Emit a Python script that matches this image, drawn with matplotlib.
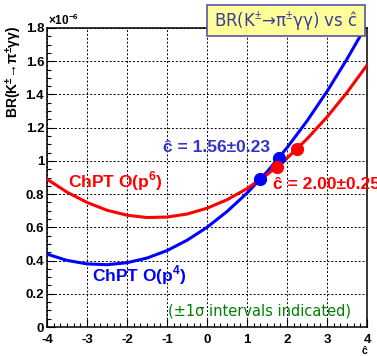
import numpy as np
import matplotlib
matplotlib.use('Agg')
import matplotlib.pyplot as plt
from matplotlib.patches import Rectangle

plt.rcParams['font.family'] = ['Liberation Sans', 'DejaVu Sans']
plt.rcParams['mathtext.fontset'] = 'custom'
plt.rcParams['mathtext.rm'] = 'Liberation Sans'
plt.rcParams['mathtext.bf'] = 'Liberation Sans:bold'
plt.rcParams['axes.unicode_minus'] = False

# ---- data (BR in units of 1e-6) ----
c_hat = [-4, -3.5, -3, -2.5, -2, -1.5, -1, -0.5, 0, 0.5, 1, 1.5, 2, 2.5, 3, 3.5, 4]
br_p4 = [0.439, 0.401, 0.380, 0.375, 0.387, 0.415, 0.460, 0.522, 0.600,
         0.695, 0.806, 0.934, 1.079, 1.240, 1.418, 1.613, 1.823]
br_p6 = [0.890, 0.812, 0.750, 0.703, 0.673, 0.659, 0.662, 0.680, 0.715,
         0.766, 0.833, 0.917, 1.016, 1.132, 1.264, 1.412, 1.576]

# +-1 sigma points
p4_pts_x = [1.33, 1.79]
p4_pts_y = [0.889, 1.016]
p6_pts_x = [1.75, 2.25]
p6_pts_y = [0.964, 1.072]

xticks = [-4, -3, -2, -1, 0, 1, 2, 3, 4]
xtick_labels = ['-4', '-3', '-2', '-1', '0', '1', '2', '3', '4']
yticks = [0, 0.2, 0.4, 0.6, 0.8, 1.0, 1.2, 1.4, 1.6, 1.8]
ytick_labels = ['0', '0.2', '0.4', '0.6', '0.8', '1', '1.2', '1.4', '1.6', '1.8']

W, H = 377, 356
fig = plt.figure(figsize=(W / 100, H / 100), dpi=100)
ax = fig.add_axes([47 / W, 1 - 327 / H, 320 / W, 299 / H])

ax.plot(c_hat, br_p4, color='#0000ff', lw=2.2, zorder=3)
ax.plot(c_hat, br_p6, color='#ff0000', lw=2.2, zorder=3)
ax.plot(p4_pts_x, p4_pts_y, 'o', color='#0000ff', ms=8.5, zorder=4)
ax.plot(p6_pts_x, p6_pts_y, 'o', color='#ff0000', ms=8.5, zorder=5)

ax.set_xlim(-4, 4)
ax.set_ylim(0, 1.8)
ax.set_xticks(xticks)
ax.set_xticklabels(xtick_labels)
ax.set_yticks(yticks)
ax.set_yticklabels(ytick_labels)
ax.set_xticks(np.arange(-4, 4.01, 1 / 6), minor=True)
ax.set_yticks(np.arange(0, 1.801, 0.05), minor=True)
ax.tick_params(which='both', direction='in', top=False, right=False, width=0.8)
ax.tick_params(which='major', length=6, labelsize=9.5)
ax.tick_params(which='minor', length=3)
ax.tick_params(axis='y', pad=2)
ax.tick_params(axis='x', pad=5)
for lab in ax.get_xticklabels() + ax.get_yticklabels():
    lab.set_fontweight('bold')
ax.grid(True, which='major', color='black', ls=(0, (2, 2)), lw=0.7)
for sp in ax.spines.values():
    sp.set_linewidth(1.1)

# labels on the plot
ax.text(-1.1, 1.055, 'ĉ = 1.56±0.23', color='#3333cc', fontsize=12.5,
        fontweight='bold', va='baseline')
ax.text(1.65, 0.83, 'ĉ = 2.00±0.25', color='#ff0000', fontsize=12.5,
        fontweight='bold', va='baseline', clip_on=False)
ax.text(-3.475, 0.842, r'ChPT O(p$^{\mathbf{6}}$)', color='#ff0000', fontsize=12.5,
        fontweight='bold', va='baseline')
ax.text(-2.875, 0.273, r'ChPT O(p$^{\mathbf{4}}$)', color='#0000ff', fontsize=12.5,
        fontweight='bold', va='baseline')
ax.text(-0.975, 0.07, '(±1σ intervals indicated)', color='#008000', fontsize=10.5,
        family='DejaVu Sans', va='baseline')

# axis titles
fig.text(14 / W, 1 - 26 / H, r'BR(K$^{\mathbf{\pm}}$→π$^{\mathbf{\pm}}$γγ)', rotation=90,
         ha='center', va='top', fontsize=10, fontweight='bold')
fig.text(48 / W, 1 - 28 / H, r'×10$^{\mathbf{-6}}$', ha='left', va='bottom',
         fontsize=8.5, fontweight='bold')
fig.text(364 / W, 1 - 356 / H, 'ĉ', ha='center', va='bottom', fontsize=7.5, fontweight='bold')

# title box
box = Rectangle((207 / W, 1 - 36 / H), 158 / W, 31 / H, transform=fig.transFigure,
                facecolor='#ffff99', edgecolor='#5555aa', lw=1.2, zorder=10)
fig.add_artist(box)
fig.text(286 / W, 1 - 20.5 / H, r'BR(K$^{\pm}$→π$^{\pm}$γγ) vs ĉ', ha='center', va='center',
         fontsize=12, color='#3c3c9c', family='DejaVu Sans', zorder=11)

fig.savefig('out.png', dpi=100)
